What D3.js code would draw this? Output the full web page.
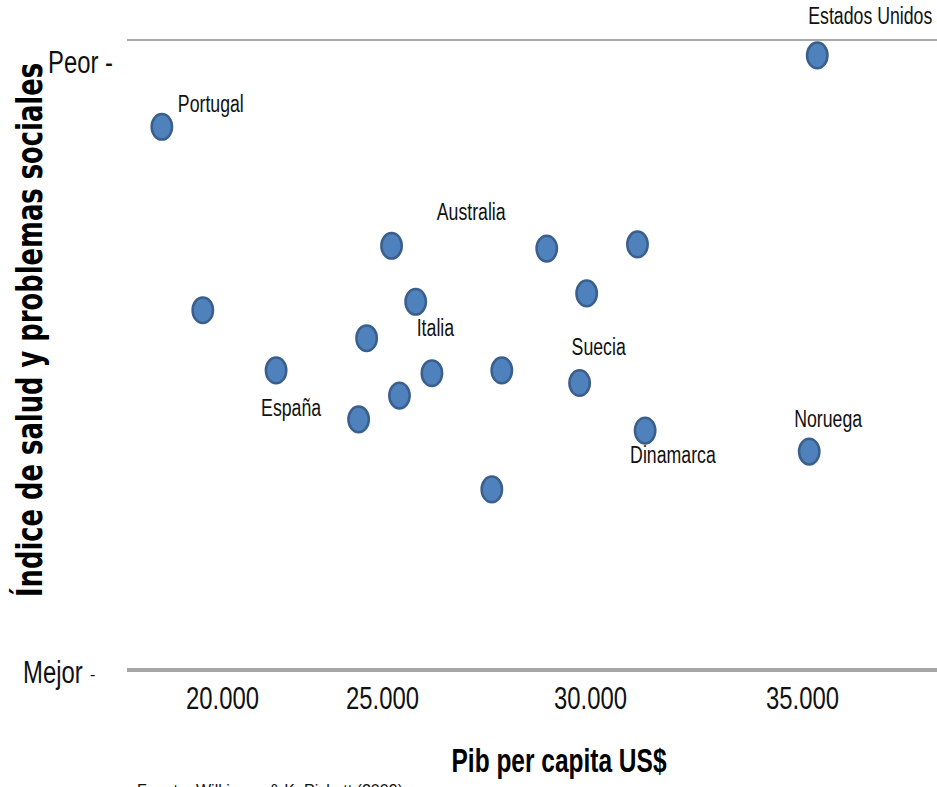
<!DOCTYPE html>
<html>
<head>
<meta charset="utf-8">
<script src="https://cdn.jsdelivr.net/npm/d3@7"></script>
<style>
  html, body { margin: 0; padding: 0; background: #fff; overflow: hidden; }
  svg { display: block; }
  .narrow { font-family: 'Liberation Sans', Arial, sans-serif; }
</style>
</head>
<body>
<svg id="chart" width="937" height="787"></svg>
<script>
// ---- data ----
const paises = ["Estados Unidos", "Portugal", "", "Australia", "", "", "Italia", "", "",
                "España", "", "", "Suecia", "", "", "Dinamarca", "Noruega", ""];
const pibPerCapita = [35360, 18120, 25230, 28960, 31120, 19400, 25810, 29920, 24520,
                      21690, 26200, 27880, 29750, 25420, 24270, 31300, 35170, 27640];
const indiceSalud = [2.39, 1.88, 1.03, 1.01, 1.04, 0.57, 0.63, 0.69, 0.37,
                     0.14, 0.12, 0.14, 0.05, -0.04, -0.21, -0.29, -0.44, -0.71];
const xTickValues = [20000, 25000, 30000, 35000];
const yTickValues = [2.35, -2];
const yTickLabels = ["Peor -", "Mejor"];
const xTitle = "Pib per capita US$";
const yTitle = "Índice de salud y problemas sociales";
const fuente = "Fuente: Wilkinson & K. Pickett (2009)";

// ---- layout / style ----
const labelOffsets = {
  "Estados Unidos": [-9, -31], "Portugal": [16, -15], "Australia": [-110, -29],
  "Italia": [1, 34], "España": [-15, 46], "Suecia": [-8, -28],
  "Dinamarca": [-15, 32], "Noruega": [-15, -25]
};
const NARROW = 0.77;
function condense(sel, factor) {
  sel.each(function () {
    const w = this.getComputedTextLength();
    d3.select(this).attr("textLength", w * factor).attr("lengthAdjust", "spacingAndGlyphs");
  });
}

const svg = d3.select("#chart");
const esLocale = d3.formatLocale({decimal: ",", thousands: ".", grouping: [3], currency: ["", "$"]});
const fmt = esLocale.format(",");

const x = d3.scaleLinear().domain(xTickValues).range([222, 382, 590, 802]);
const y = d3.scaleLinear().domain([-2, 2.5]).range([670, 40]);

const data = paises.map((p, i) => ({name: p, gdp: pibPerCapita[i], idx: indiceSalud[i]}));

// top frame line
svg.append("line")
  .attr("x1", 127).attr("x2", 937)
  .attr("y1", y(2.5)).attr("y2", y(2.5))
  .attr("stroke", "#8c8c8c").attr("stroke-width", 1.3);

// x axis (bottom)
const xAxis = d3.axisBottom(x).tickValues(xTickValues).tickFormat(fmt).tickSize(0).tickPadding(0);
const gx = svg.append("g").attr("transform", `translate(0,${y(-2)})`).call(xAxis);
gx.attr("font-family", null).attr("font-size", null);
gx.select(".domain").remove();
gx.selectAll("text")
  .attr("class", "narrow")
  .attr("font-size", 31)
  .attr("fill", "#111")
  .attr("dy", 0)
  .attr("y", 39)
  .call(condense, NARROW);
svg.append("line")
  .attr("x1", 127).attr("x2", 937)
  .attr("y1", y(-2)).attr("y2", y(-2))
  .attr("stroke", "#a6a6a6").attr("stroke-width", 4);

// y axis labels (Peor / Mejor)
const yAxis = d3.axisLeft(y).tickValues(yTickValues)
  .tickFormat((d, i) => yTickLabels[i]).tickSize(0).tickPadding(0);
const gy = svg.append("g").call(yAxis);
gy.attr("font-family", null).attr("font-size", null);
gy.select(".domain").remove();
gy.selectAll("text")
  .attr("class", "narrow")
  .attr("text-anchor", "start")
  .attr("font-size", 31)
  .attr("fill", "#111")
  .attr("x", (d, i) => i === 0 ? 48 : 23)
  .attr("dy", (d, i) => i === 0 ? "0.36em" : "0.4em")
  .call(condense, NARROW);
// small dash after "Mejor"
svg.append("text").attr("class", "narrow")
  .attr("x", 90).attr("y", y(-2) + 10)
  .attr("font-size", 16).attr("fill", "#111").text("-");

// points
svg.append("g").selectAll("ellipse").data(data).join("ellipse")
  .attr("cx", d => x(d.gdp))
  .attr("cy", d => y(d.idx))
  .attr("rx", 10.2).attr("ry", 12.8)
  .attr("fill", "#4f81bd")
  .attr("stroke", "#3a5f8c")
  .attr("stroke-width", 2.5);

// country labels
svg.append("g").selectAll("text").data(data.filter(d => d.name)).join("text")
  .attr("class", "narrow")
  .attr("x", d => x(d.gdp) + labelOffsets[d.name][0])
  .attr("y", d => y(d.idx) + labelOffsets[d.name][1])
  .attr("font-size", 23)
  .attr("fill", "#111")
  .text(d => d.name)
  .call(condense, NARROW);

// x title
svg.append("text").attr("class", "narrow")
  .attr("x", 559).attr("y", 772)
  .attr("text-anchor", "middle")
  .attr("font-size", 34).attr("font-weight", "bold")
  .attr("fill", "#000")
  .text(xTitle)
  .attr("textLength", 215).attr("lengthAdjust", "spacingAndGlyphs");

// y title
svg.append("text")
  .attr("transform", "translate(42,330) rotate(-90)")
  .attr("text-anchor", "middle")
  .attr("font-family", "'DejaVu Sans', Verdana, sans-serif")
  .attr("font-weight", "bold")
  .attr("font-size", 35)
  .attr("textLength", 534)
  .attr("lengthAdjust", "spacingAndGlyphs")
  .attr("fill", "#000")
  .text(yTitle);

// source (cut off at bottom)
svg.append("text").attr("class", "narrow")
  .attr("x", 137).attr("y", 796)
  .attr("font-size", 17).attr("fill", "#111")
  .attr("textLength", 266).attr("lengthAdjust", "spacingAndGlyphs")
  .text(fuente);
</script>
</body>
</html>
